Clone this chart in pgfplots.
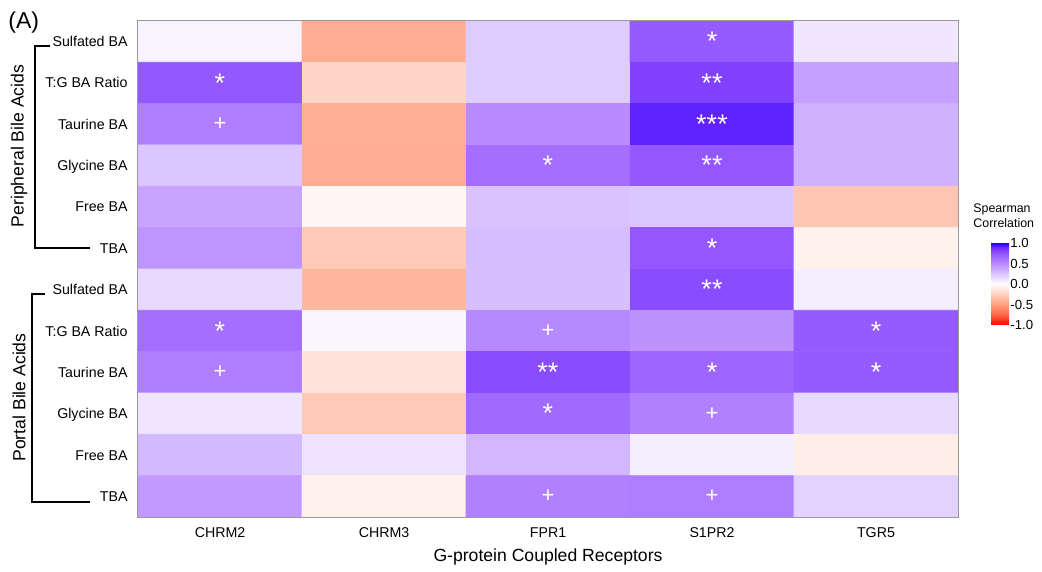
\documentclass[border=0pt]{standalone}
\usepackage{fontspec}
\setmainfont{Liberation Sans}
\usepackage{pgfplots}
\usepackage{pgfplotstable}
\pgfplotsset{compat=1.18}

% Spearman correlations: x = receptor (0..4), y = bile acid row (0 = top)
\pgfplotstableread{
x y c
0 0 0.05
1 0 -0.43
2 0 0.22
3 0 0.72
4 0 0.10
0 1 0.73
1 1 -0.22
2 1 0.22
3 1 0.82
4 1 0.41
0 2 0.56
1 2 -0.41
2 2 0.50
3 2 0.92
4 2 0.33
0 3 0.24
1 3 -0.42
2 3 0.63
3 3 0.74
4 3 0.33
0 4 0.39
1 4 -0.04
2 4 0.26
3 4 0.24
4 4 -0.30
0 5 0.46
1 5 -0.28
2 5 0.28
3 5 0.74
4 5 -0.07
0 6 0.16
1 6 -0.38
2 6 0.27
3 6 0.78
4 6 0.07
0 7 0.63
1 7 0.04
2 7 0.51
3 7 0.47
4 7 0.72
0 8 0.56
1 8 -0.15
2 8 0.78
3 8 0.67
4 8 0.72
0 9 0.11
1 9 -0.28
2 9 0.65
3 9 0.55
4 9 0.16
0 10 0.30
1 10 0.12
2 10 0.31
3 10 0.07
4 10 -0.09
0 11 0.44
1 11 -0.07
2 11 0.55
3 11 0.56
4 11 0.19
}\cells

% significance stars
\pgfplotstableread{
x y s
3 0 *
0 1 *
3 1 **
3 2 ***
2 3 *
3 3 **
3 5 *
3 6 **
0 7 *
4 7 *
2 8 **
3 8 *
4 8 *
2 9 *
}\stars

% trend marks
\pgfplotstableread{
x y s
0 2 +
2 7 +
0 8 +
3 9 +
2 11 +
3 11 +
}\trends

\begin{document}
\begin{tikzpicture}
\begin{axis}[
  at={(0,0)}, anchor=south west,
  scale only axis, width=410pt, height=248pt,
  xmin=-0.5, xmax=4.5, ymin=-0.5, ymax=11.5, y dir=reverse,
  xtick={0,...,4}, xticklabels={CHRM2,CHRM3,FPR1,S1PR2,TGR5},
  ytick={0,...,11},
  yticklabels={Sulfated BA,T:G BA Ratio,Taurine BA,Glycine BA,Free BA,TBA,
               Sulfated BA,T:G BA Ratio,Taurine BA,Glycine BA,Free BA,TBA},
  major tick length=0,
  tick label style={font=\fontsize{7.1}{8}\selectfont},
  xticklabel style={anchor=base, yshift=-10pt},
  yticklabel style={anchor=base east, yshift=-2.5pt, xshift=-1.7pt},
  axis line style={draw=black!40, line width=0.5pt},
  xlabel={G-protein Coupled Receptors},
  xlabel style={font=\fontsize{8.8}{10}\selectfont, at={(axis description cs:0.5,0)}, anchor=base, yshift=-22pt},
  colormap={spearman}{
    rgb255(0pt)=(255,0,0);
    rgb255(5pt)=(255,104,70);
    rgb255(10pt)=(255,158,129);
    rgb255(15pt)=(255,207,191);
    rgb255(20pt)=(255,255,255);
    rgb255(25pt)=(218,196,255);
    rgb255(30pt)=(185,139,255);
    rgb255(35pt)=(145,84,255);
    rgb255(38pt)=(112,42,255);
    rgb255(40pt)=(30,0,255)
  },
  point meta min=-1, point meta max=1,
  colorbar,
  colorbar style={
    at={(parent axis.north east)}, anchor=north west,
    xshift=8pt, yshift=-111pt,
    scale only axis, width=9pt, height=41pt,
    ytick={-1,-0.5,0,0.5,1}, yticklabels={-1.0,-0.5,0.0,0.5,1.0},
    yticklabel style={font=\fontsize{6.6}{7}\selectfont, anchor=west, inner sep=0.5pt},
    axis line style={draw=none}, major tick length=0,
  },
  axis on top,
]
\addplot[matrix plot*, mesh/cols=5, point meta=explicit] table[x=x, y=y, meta=c] {\cells};
\addplot[draw=none, mark=none, point meta=explicit symbolic,
  nodes near coords, nodes near coords align=center,
  every node near coord/.append style={text=white, font=\fontsize{13.5}{14}\selectfont, anchor=center}]
  table[x=x, y=y, meta=s] {\stars};
\addplot[draw=none, mark=none, point meta=explicit symbolic,
  nodes near coords, nodes near coords align=center,
  every node near coord/.append style={text=white, font=\fontsize{11}{12}\selectfont, anchor=center}]
  table[x=x, y=y, meta=s] {\trends};
\end{axis}

% panel letter
\node[anchor=base west, font=\fontsize{11.5}{13}\selectfont, inner sep=0] at (-65pt,244pt) {(A)};

% group brackets
\draw[line width=0.65pt] (-44pt,235.5pt) -- (-51.5pt,235.5pt) -- (-51.5pt,134.5pt) -- (-24pt,134.5pt);
\draw[line width=0.65pt] (-46.5pt,111.5pt) -- (-53pt,111.5pt) -- (-53pt,7.5pt) -- (-24pt,7.5pt);
\node[rotate=90, font=\fontsize{8.8}{10}\selectfont] at (-59.5pt,185.5pt) {Peripheral Bile Acids};
\node[rotate=90, font=\fontsize{8.8}{10}\selectfont] at (-59.5pt,59.75pt) {Portal Bile Acids};

% colour scale title
\node[anchor=base west, font=\fontsize{6.2}{7}\selectfont, inner sep=0] at (417.5pt,152pt) {Spearman};
\node[anchor=base west, font=\fontsize{6.2}{7}\selectfont, inner sep=0] at (417.5pt,144.5pt) {Correlation};

\path[use as bounding box] (-69pt,-26.5pt) rectangle (452pt,258.5pt);
\end{tikzpicture}
\end{document}
